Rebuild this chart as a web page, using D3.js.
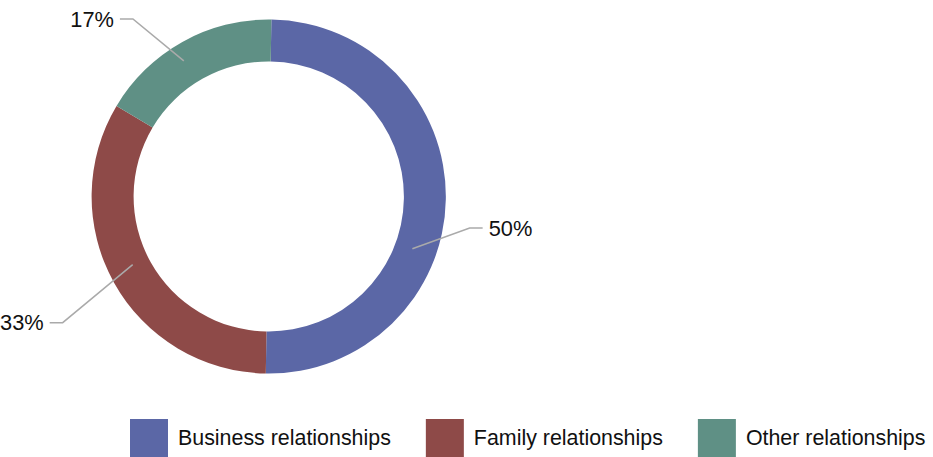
<!DOCTYPE html>
<html><head><meta charset="utf-8">
<script src="https://cdn.jsdelivr.net/npm/d3@7"></script>
<style>
html,body{margin:0;padding:0;background:#fff;}
svg{display:block;font-family:"Liberation Sans",Arial,Helvetica,sans-serif;}
</style></head>
<body><svg id="c" width="933" height="457"></svg>
<script>
const categories = ["Business relationships", "Family relationships", "Other relationships"];
const values = [50, 33.3, 16.7];
const labels = ["50%", "33%", "17%"];
const colors = ["#5b67a6", "#8e4a48", "#5f9085"];
// leader-line layout (degrees clockwise from top, radii in px)
const labelStartDeg = [110, 243.4, 328];
const labelStartR = [153, 152, 160];
const labelElbowDeg = [98.9, 238.5, 322.6];
const labelElbowR = [203.5, 241.5, 223.4];

const svg = d3.select("#c");
const cx = 268.6, cy = 196.5, R = 177, r = 135;
const rot = 0.9 * Math.PI / 180;

const pie = d3.pie().sort(null).value(d => d).startAngle(rot).endAngle(rot + 2 * Math.PI);
const arcs = pie(values);
const arc = d3.arc().innerRadius(r).outerRadius(R);

const g = svg.append("g").attr("transform", `translate(${cx},${cy})`);
g.selectAll("path").data(arcs).join("path")
  .attr("d", arc).attr("fill", (d, i) => colors[i]);

function polar(deg, rad) {
  const a = deg * Math.PI / 180;
  return [rad * Math.sin(a), -rad * Math.cos(a)];
}
arcs.forEach((d, i) => {
  const p0 = polar(labelStartDeg[i], labelStartR[i]);
  const p1 = polar(labelElbowDeg[i], labelElbowR[i]);
  const right = p1[0] > 0;
  const p2 = [p1[0] + (right ? 13 : -13), p1[1]];
  g.append("polyline")
    .attr("points", [p0, p1, p2].map(p => p.join(",")).join(" "))
    .attr("fill", "none").attr("stroke", "#aaaaaa").attr("stroke-width", 1.5);
  g.append("text")
    .attr("x", p2[0] + (right ? 6 : -6)).attr("y", p1[1])
    .attr("dy", "0.35em")
    .attr("text-anchor", right ? "start" : "end")
    .attr("font-size", 21.8).attr("fill", "#111")
    .text(labels[i]);
});

const leg = svg.append("g");
let x = 130;
categories.forEach((c, i) => {
  leg.append("rect").attr("x", x).attr("y", 419).attr("width", 38).attr("height", 38).attr("fill", colors[i]);
  const t = leg.append("text").attr("x", x + 48).attr("y", 438).attr("dy", "0.35em")
    .attr("font-size", 21.4).attr("fill", "#111").text(c);
  x += 48 + t.node().getComputedTextLength() + 35;
});
</script></body></html>
